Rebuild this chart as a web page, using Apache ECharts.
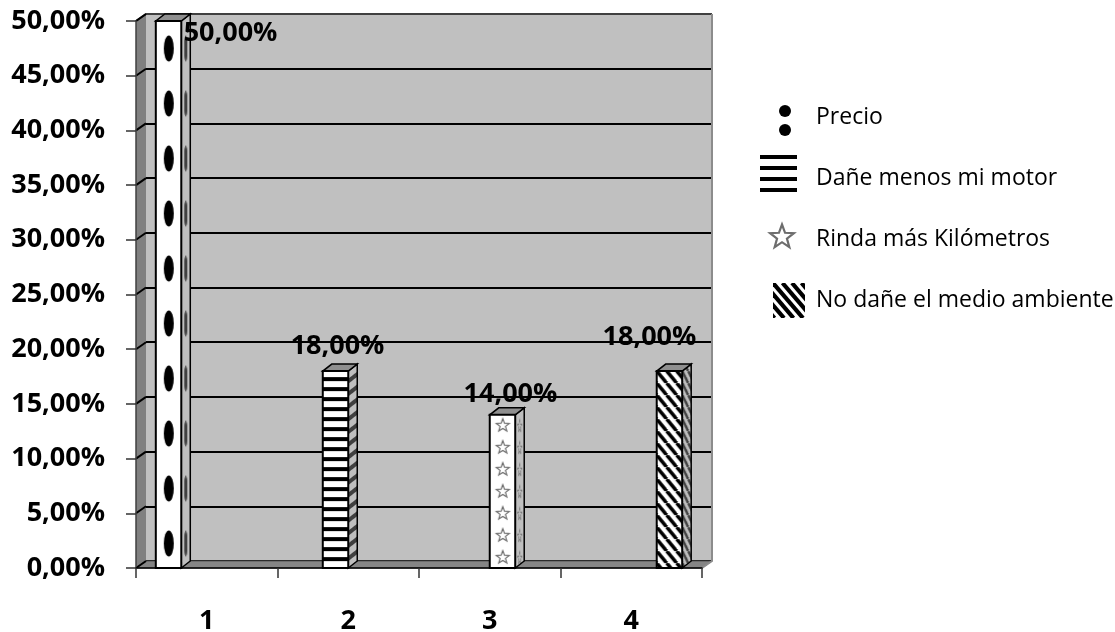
<!DOCTYPE html>
<html>
<head>
<meta charset="utf-8">
<script src="https://cdn.jsdelivr.net/npm/echarts@6/dist/echarts.min.js"></script>
<style>
  html, body { margin: 0; padding: 0; background: #fff; }
  #chart { width: 1115px; height: 632px; }
</style>
</head>
<body>
<div id="chart"></div>
<script>
// Survey: what matters most when choosing a fuel (share of answers, %)
const categories = ['1', '2', '3', '4'];
const seriesNames = ['Precio', 'Dañe menos mi motor', 'Rinda más Kilómetros', 'No dañe el medio ambiente'];
const precio = [50, null, null, null];
const daneMenosMotor = [null, 18, null, null];
const rindaMasKm = [null, null, 14, null];
const noDaneAmbiente = [null, null, null, 18];
const yTicks = [0, 5, 10, 15, 20, 25, 30, 35, 40, 45, 50];

const seriesValues = [precio, daneMenosMotor, rindaMasKm, noDaneAmbiente];

// ---- look & layout ----
const FONT = '"Open Sans", "Liberation Sans", sans-serif';
const WALL_DEPTH = [10, -7];      // back wall offset from the front plane
const BAR_DEPTH = [9, -7];        // prism depth of each bar
const BAR_FRAC = 0.18;            // bar width as a share of the category band
const LABEL_SHIFT = [[62, 12], [2, -25], [8, -21], [-20, -34]]; // value label offset from bar top centre
const fmt = v => v.toFixed(2).replace('.', ',') + '%';

// ---- fill textures ----
function tile(w, h, draw) {
  const c = document.createElement('canvas');
  c.width = w; c.height = h;
  const g = c.getContext('2d');
  draw(g, w, h);
  return c;
}
function starPath(g, cx, cy, ro, ri) {
  g.beginPath();
  for (let i = 0; i < 10; i++) {
    const r = i % 2 ? ri : ro;
    const a = -Math.PI / 2 + i * Math.PI / 5;
    const x = cx + r * Math.cos(a), y = cy + r * Math.sin(a);
    i ? g.lineTo(x, y) : g.moveTo(x, y);
  }
  g.closePath();
}
const texDots = tile(26, 55, (g, w, h) => {
  g.fillStyle = '#fff'; g.fillRect(0, 0, w, h);
  g.fillStyle = '#000';
  g.beginPath(); g.ellipse(13, 27.5, 5, 13, 0, 0, Math.PI * 2); g.fill();
});
const texHStripes = tile(4, 10, (g, w, h) => {
  g.fillStyle = '#fff'; g.fillRect(0, 0, w, h);
  g.fillStyle = '#000'; g.fillRect(0, 6, w, 4);
});
const texStars = tile(26, 22, (g, w, h) => {
  g.fillStyle = '#fff'; g.fillRect(0, 0, w, h);
  starPath(g, 13, 11.5, 6.8, 2.9);
  g.strokeStyle = '#6e6e6e'; g.lineWidth = 1.2; g.stroke();
});
const texDiag = tile(10, 12, (g, w, h) => {
  g.fillStyle = '#fff'; g.fillRect(0, 0, w, h);
  g.strokeStyle = '#000'; g.lineWidth = 3.6;
  for (let k = -1; k <= 1; k++) {
    g.beginPath(); g.moveTo(k * w, 0); g.lineTo(k * w + w, h); g.stroke();
  }
});
function shade(src, sx) {
  const w = Math.max(2, Math.round(src.width * sx));
  return tile(w, src.height, (g, w2, h) => {
    g.drawImage(src, 0, 0, w2, h);
    g.fillStyle = 'rgba(128,128,128,0.5)'; g.fillRect(0, 0, w2, h);
  });
}
const frontTex = [texDots, texHStripes, texStars, texDiag];
const sideTex = [shade(texDots, 0.35), shade(texHStripes, 1), shade(texStars, 0.35), shade(texDiag, 0.6)];
const sideRot = [0, Math.atan2(BAR_DEPTH[1], BAR_DEPTH[0]), 0, 0];

// ---- legend symbols ----
const LEG_W = 54, LEG_H = 48;
const legendIcons = [
  tile(LEG_W, LEG_H, g => {
    g.fillStyle = '#000';
    [[28, 18], [28, 37]].forEach(([x, y]) => { g.beginPath(); g.arc(x, y, 6, 0, Math.PI * 2); g.fill(); });
  }),
  tile(LEG_W, LEG_H, g => {
    g.fillStyle = '#000';
    [1, 12, 23, 34].forEach(y => g.fillRect(3, y, 37, 4));
  }),
  tile(LEG_W, LEG_H, g => {
    g.fillStyle = '#fff';
    starPath(g, 25, 22, 12.5, 5.2);
    g.fill();
    g.strokeStyle = '#6d6d6d'; g.lineWidth = 2.2; g.lineJoin = 'miter'; g.stroke();
  }),
  tile(LEG_W, LEG_H, g => {
    g.save();
    g.beginPath(); g.rect(16, 7, 32, 35); g.clip();
    g.strokeStyle = '#000'; g.lineWidth = 4.2;
    for (let k = -5; k <= 4; k++) {
      g.beginPath(); g.moveTo(16 + k * 9.5, 7); g.lineTo(16 + k * 9.5 + 30, 42); g.stroke();
    }
    g.restore();
  })
].map(c => 'image://' + c.toDataURL());

// ---- 3D bars ----
function barSeries(k) {
  return {
    type: 'custom',
    name: seriesNames[k],
    xAxisIndex: 0, yAxisIndex: 0,
    z: 5, clip: false,
    data: seriesValues[k].map((v, i) => (v == null ? null : [i, v])).filter(Boolean),
    renderItem(params, api) {
      const ci = api.value(0), v = api.value(1);
      const b = api.coord([ci, 0]), t = api.coord([ci, v]);
      const bw = api.size([1, 0])[0] * BAR_FRAC;
      const L = b[0] + (k - 2) * bw, R = L + bw, yT = t[1], yB = b[1];
      const [dx, dy] = BAR_DEPTH;
      const sh = LABEL_SHIFT[k];
      const frontY = k === 2 ? yB : yT;
      return {
        type: 'group',
        children: [
          { type: 'polygon', shape: { points: [[R, yT], [R + dx, yT + dy], [R + dx, yB + dy], [R, yB]] },
            style: { fill: { image: sideTex[k], repeat: 'repeat', x: R, y: yT, rotation: sideRot[k] }, stroke: '#000', lineWidth: 1.5 } },
          { type: 'polygon', shape: { points: [[L, yT], [R, yT], [R + dx, yT + dy], [L + dx, yT + dy]] },
            style: { fill: '#8f8f8f', stroke: '#000', lineWidth: 1.5 } },
          { type: 'rect', shape: { x: L, y: yT, width: bw, height: yB - yT },
            style: { fill: { image: frontTex[k], repeat: 'repeat', x: L, y: frontY }, stroke: '#000', lineWidth: 2 } },
          { type: 'text', x: (L + R) / 2 + sh[0], y: yT + sh[1], z2: 10,
            style: { text: fmt(v), fill: '#000', font: 'bold 27px ' + FONT, align: 'center', verticalAlign: 'middle' } }
        ]
      };
    }
  };
}

// ---- side wall, floor and frame edges ----
const frameSeries = {
  type: 'custom',
  name: 'frame',
  xAxisIndex: 0, yAxisIndex: 0,
  z: 1, clip: false, silent: true,
  data: [[0, 0]],
  renderItem(params, api) {
    const band = api.size([1, 0])[0];
    const x0 = api.coord([0, 0])[0] - band / 2;
    const x1 = api.coord([categories.length - 1, 0])[0] + band / 2;
    const y = v => api.coord([0, v])[1];
    const yB = y(yTicks[0]), yT = y(yTicks[yTicks.length - 1]);
    const [dx, dy] = WALL_DEPTH;
    const kids = [
      { type: 'polygon', shape: { points: [[x0, yT], [x0 + dx, yT + dy], [x0 + dx, yB + dy], [x0, yB]] },
        style: { fill: '#808080' } },
      { type: 'polygon', shape: { points: [[x0, yB], [x1, yB], [x1 + dx, yB + dy], [x0 + dx, yB + dy]] },
        style: { fill: '#858585', stroke: '#555', lineWidth: 1 } },
      { type: 'polyline', shape: { points: [[x0, yT], [x0 + dx, yT + dy], [x1 + dx, yT + dy]] },
        style: { stroke: '#404040', lineWidth: 2, fill: null } },
      { type: 'polyline', shape: { points: [[x1 + dx, yT + dy], [x1 + dx, yB + dy], [x1, yB]] },
        style: { stroke: '#8c8c8c', lineWidth: 2, fill: null } }
    ];
    yTicks.forEach(v => {
      kids.push({ type: 'line', shape: { x1: x0, y1: y(v), x2: x0 + dx, y2: y(v) + dy },
        style: { stroke: '#000', lineWidth: 2 } });
    });
    return { type: 'group', children: kids };
  }
};

const yMin = yTicks[0], yMax = yTicks[yTicks.length - 1], yStep = yTicks[1] - yTicks[0];
const boldText = { color: '#000', fontFamily: FONT, fontWeight: 'bold', fontSize: 27 };

const option = {
  animation: false,
  backgroundColor: '#fff',
  legend: {
    orient: 'vertical',
    left: 752, top: 88,
    itemWidth: LEG_W, itemHeight: LEG_H, itemGap: 13,
    selectedMode: false,
    textStyle: { color: '#000', fontFamily: FONT, fontSize: 23 },
    data: seriesNames.map((n, i) => ({ name: n, icon: legendIcons[i] }))
  },
  grid: [
    { left: 136, right: 413, top: 21, bottom: 64, containLabel: false, outerBoundsMode: 'none' },
    { left: 136 + WALL_DEPTH[0], right: 413 - WALL_DEPTH[0], top: 21 + WALL_DEPTH[1], bottom: 64 - WALL_DEPTH[1],
      containLabel: false, outerBoundsMode: 'none',
      show: true, backgroundColor: '#c0c0c0', borderWidth: 0 }
  ],
  xAxis: [
    { gridIndex: 0, type: 'category', data: categories, z: 3,
      axisLine: { lineStyle: { color: '#000', width: 1.5 } },
      axisTick: { show: true, length: 10, lineStyle: { color: '#333', width: 1.5 } },
      axisLabel: Object.assign({ margin: 40 }, boldText) },
    { gridIndex: 1, type: 'category', data: categories, show: false }
  ],
  yAxis: [
    { gridIndex: 0, type: 'value', min: yMin, max: yMax, interval: yStep, z: 3,
      axisLine: { show: true, lineStyle: { color: '#404040', width: 1.5 } },
      axisTick: { show: true, length: 10, lineStyle: { color: '#333', width: 1.5 } },
      splitLine: { show: false },
      axisLabel: Object.assign({ margin: 31, formatter: v => fmt(v) }, boldText) },
    { gridIndex: 1, type: 'value', min: yMin, max: yMax, interval: yStep,
      axisLine: { show: false }, axisTick: { show: false }, axisLabel: { show: false },
      splitLine: { show: true, lineStyle: { color: '#000', width: 2 } } }
  ],
  series: [frameSeries].concat(seriesNames.map((n, k) => barSeries(k)))
};

const chart = echarts.init(document.getElementById('chart'), null, { renderer: 'canvas' });
chart.setOption(option);
</script>
</body>
</html>
